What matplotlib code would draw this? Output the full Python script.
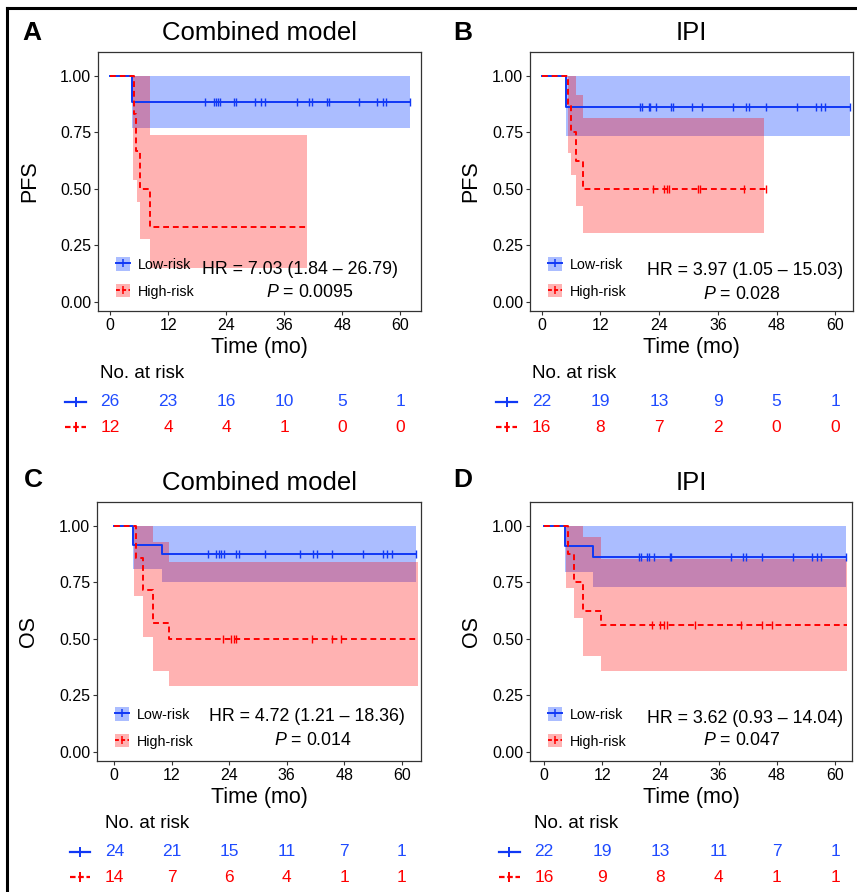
import numpy as np
import matplotlib
matplotlib.use("Agg")
import matplotlib.pyplot as plt
from matplotlib.patches import Patch
from matplotlib.lines import Line2D
import matplotlib.transforms as mtransforms

plt.rcParams['font.family'] = ['Liberation Sans', 'DejaVu Sans']
plt.rcParams['mathtext.fontset'] = 'custom'
plt.rcParams['mathtext.rm'] = 'Liberation Sans'
plt.rcParams['mathtext.it'] = 'Liberation Sans:italic'

# ---------------- data ----------------
panel_letters = ["A", "B", "C", "D"]
panel_titles = ["Combined model", "IPI", "Combined model", "IPI"]
y_labels = ["PFS", "PFS", "OS", "OS"]
group_labels = ["Low-risk", "High-risk"]
x_ticks = [0, 12, 24, 36, 48, 60]
y_ticks = [0.00, 0.25, 0.50, 0.75, 1.00]
y_tick_labels = ["0.00", "0.25", "0.50", "0.75", "1.00"]

hr_texts = ["HR = 7.03 (1.84 \u2013 26.79)", "HR = 3.97 (1.05 \u2013 15.03)",
            "HR = 4.72 (1.21 \u2013 18.36)", "HR = 3.62 (0.93 \u2013 14.04)"]
p_values = ["0.0095", "0.028", "0.014", "0.047"]

# Panel A (PFS, combined model)
A_low_t = [0, 4.6, 62.0]
A_low_s = [1.0, 0.885, 0.885]
A_low_ci_lo = [1.0, 0.768, 0.768]
A_low_ci_hi = [1.0, 1.0, 1.0]
A_low_cens = [19.7, 21.4, 22.0, 22.3, 22.7, 25.6, 26.1, 30.0, 31.3, 32.0, 38.6,
              41.2, 41.8, 44.8, 45.2, 51.5, 55.3, 56.4, 57.0, 62.0]
A_high_t = [0, 4.9, 5.4, 6.2, 8.3, 40.7]
A_high_s = [1.0, 0.833, 0.667, 0.5, 0.333, 0.333]
A_high_ci_t = [0, 4.7, 5.5, 6.2, 8.3, 40.7]
A_high_ci_lo = [1.0, 0.54, 0.444, 0.28, 0.149, 0.149]
A_high_ci_hi = [1.0, 1.0, 1.0, 1.0, 0.739, 0.739]
A_high_cens = []
A_risk_low = [26, 23, 16, 10, 5, 1]
A_risk_high = [12, 4, 4, 1, 0, 0]

# Panel B (PFS, IPI)
B_low_t = [0, 5.0, 62.9]
B_low_s = [1.0, 0.864, 0.864]
B_low_ci_lo = [1.0, 0.735, 0.735]
B_low_ci_hi = [1.0, 1.0, 1.0]
B_low_cens = [20.1, 20.5, 21.9, 22.2, 23.3, 26.5, 26.8, 30.7, 32.7, 39.1, 41.8,
              42.4, 45.8, 52.1, 56.0, 57.1, 57.8, 62.9]
B_high_t = [0, 5.3, 6.0, 6.9, 8.5, 46.0]
B_high_s = [1.0, 0.875, 0.75, 0.625, 0.5, 0.5]
B_high_ci_t = [0, 5.3, 6.0, 6.9, 8.5, 45.5]
B_high_ci_lo = [1.0, 0.66, 0.562, 0.426, 0.307, 0.307]
B_high_ci_hi = [1.0, 1.0, 1.0, 0.913, 0.813, 0.813]
B_high_cens = [22.8, 25.0, 25.5, 26.0, 32.0, 32.4, 41.3, 45.8]
B_risk_low = [22, 19, 13, 9, 5, 1]
B_risk_high = [16, 8, 7, 2, 0, 0]

# Panel C (OS, combined model)
C_low_t = [0, 4.0, 9.9, 63.0]
C_low_s = [1.0, 0.917, 0.875, 0.875]
C_low_ci_lo = [1.0, 0.811, 0.752, 0.752]
C_low_ci_hi = [1.0, 1.0, 1.0, 1.0]
C_low_cens = [19.5, 21.3, 21.8, 22.3, 22.8, 25.5, 26.0, 31.4, 38.8, 41.5, 42.2,
              45.5, 51.9, 56.0, 57.0, 57.9, 63.0]
C_high_t = [0, 4.5, 6.1, 8.0, 11.5, 63.4]
C_high_s = [1.0, 0.857, 0.714, 0.571, 0.5, 0.5]
C_high_ci_t = [0, 4.2, 6.1, 8.0, 11.5, 63.4]
C_high_ci_lo = [1.0, 0.69, 0.51, 0.358, 0.292, 0.292]
C_high_ci_hi = [1.0, 1.0, 1.0, 0.93, 0.841, 0.841]
C_high_cens = [22.7, 24.4, 24.9, 25.5, 41.2, 45.5, 47.4]
C_risk_low = [24, 21, 15, 11, 7, 1]
C_risk_high = [14, 7, 6, 4, 1, 1]

# Panel D (OS, IPI)
D_low_t = [0, 4.4, 10.1, 62.2]
D_low_s = [1.0, 0.909, 0.864, 0.864]
D_low_ci_lo = [1.0, 0.795, 0.729, 0.729]
D_low_ci_hi = [1.0, 1.0, 1.0, 1.0]
D_low_cens = [19.6, 19.9, 21.3, 21.6, 22.7, 25.9, 26.2, 38.5, 41.0, 41.6, 45.0,
              51.4, 55.3, 56.3, 57.1, 62.2]
D_high_t = [0, 4.9, 6.2, 8.1, 11.7, 62.5]
D_high_s = [1.0, 0.875, 0.75, 0.625, 0.5625, 0.5625]
D_high_ci_t = [0, 4.6, 6.2, 8.1, 11.7, 62.5]
D_high_ci_lo = [1.0, 0.726, 0.593, 0.423, 0.36, 0.36]
D_high_ci_hi = [1.0, 1.0, 1.0, 0.95, 0.855, 0.855]
D_high_cens = [22.3, 24.0, 24.7, 25.4, 31.2, 40.6, 44.9, 47.0]
D_risk_low = [22, 19, 13, 11, 7, 1]
D_risk_high = [16, 9, 8, 4, 1, 1]

# ---------------- style / layout ----------------
BLUE = "#1038F5"
BLUE_TXT = "#1F4BFF"
BLUE_FILL = "#2E5BFF"
RED = "#FF0000"
W, H = 857, 892

panels = [
    dict(low=(A_low_t, A_low_s, A_low_ci_lo, A_low_ci_hi, A_low_cens),
         high=(A_high_t, A_high_s, A_high_ci_t, A_high_ci_lo, A_high_ci_hi, A_high_cens),
         risk=(A_risk_low, A_risk_high), box=(98, 52, 421, 311), xlim=(-2.5, 64.3),
         hr_xy=(39.3, 0.142), p_xy=(41.4, 0.04), letter_xy=(32, 33), ylab_x=-0.18),
    dict(low=(B_low_t, B_low_s, B_low_ci_lo, B_low_ci_hi, B_low_cens),
         high=(B_high_t, B_high_s, B_high_ci_t, B_high_ci_lo, B_high_ci_hi, B_high_cens),
         risk=(B_risk_low, B_risk_high), box=(530, 52, 853, 311), xlim=(-2.4, 63.6),
         hr_xy=(41.6, 0.137), p_xy=(40.8, 0.035), letter_xy=(463, 33), ylab_x=-0.15),
    dict(low=(C_low_t, C_low_s, C_low_ci_lo, C_low_ci_hi, C_low_cens),
         high=(C_high_t, C_high_s, C_high_ci_t, C_high_ci_lo, C_high_ci_hi, C_high_cens),
         risk=(C_risk_low, C_risk_high), box=(97, 502, 421, 761), xlim=(-3.6, 64.0),
         hr_xy=(40.3, 0.155), p_xy=(41.4, 0.052), letter_xy=(33, 480), ylab_x=-0.18),
    dict(low=(D_low_t, D_low_s, D_low_ci_lo, D_low_ci_hi, D_low_cens),
         high=(D_high_t, D_high_s, D_high_ci_t, D_high_ci_lo, D_high_ci_hi, D_high_cens),
         risk=(D_risk_low, D_risk_high), box=(530, 502, 852, 761), xlim=(-2.9, 63.5),
         hr_xy=(41.4, 0.15), p_xy=(40.7, 0.05), letter_xy=(463, 480), ylab_x=-0.15),
]

fig = plt.figure(figsize=(W / 100, H / 100), dpi=100)


def surv_at(t, s, x):
    i = np.searchsorted(np.asarray(t), x, side="right") - 1
    return np.asarray(s)[np.clip(i, 0, len(s) - 1)]


DASH = (0, (3.0, 2.0))

for k, p in enumerate(panels):
    l, t, r, b = p["box"]
    ax = fig.add_axes([l / W, 1 - b / H, (r - l) / W, (b - t) / H])
    lt, ls_, llo, lhi, lcens = p["low"]
    ht, hs, hct, hlo, hhi, hcens = p["high"]

    ax.fill_between(lt, llo, lhi, step="post", color=BLUE_FILL, alpha=0.4, lw=0)
    ax.fill_between(hct, hlo, hhi, step="post", color=RED, alpha=0.3, lw=0)
    ax.step(lt, ls_, where="post", color=BLUE, lw=1.4, zorder=3)
    ax.step(ht, hs, where="post", color=RED, lw=1.4, ls=DASH, zorder=4)
    if len(lcens):
        ax.plot(lcens, surv_at(lt, ls_, lcens), ls="none", marker="|", ms=6,
                mew=1.0, color=BLUE, zorder=3)
    if len(hcens):
        ax.plot(hcens, surv_at(ht, hs, hcens), ls="none", marker="|", ms=6,
                mew=1.0, color=RED, zorder=4)

    ax.set_xlim(*p["xlim"])
    ax.set_ylim(-0.04, 1.105)
    ax.set_xticks(x_ticks)
    ax.set_xticklabels([str(v) for v in x_ticks])
    ax.set_yticks(y_ticks)
    ax.set_yticklabels(y_tick_labels)
    ax.tick_params(axis="both", labelsize=11.5, length=3, width=0.8,
                   color="#333333", labelcolor="black", pad=2)
    for sp in ax.spines.values():
        sp.set_color("#333333")
        sp.set_linewidth(0.9)

    ax.set_xlabel("Time (mo)", fontsize=15.5, labelpad=3)
    ax.set_ylabel(y_labels[k], fontsize=15.5)
    ax.yaxis.set_label_coords(p["ylab_x"], 0.5)

    ax.text(0.5, 1 + 19 / (b - t), panel_titles[k], transform=ax.transAxes,
            ha="center", va="center", fontsize=18.5)
    fig.text(p["letter_xy"][0] / W, 1 - p["letter_xy"][1] / H, panel_letters[k],
             ha="center", va="center", fontsize=19, fontweight="bold")

    ax.text(*p["hr_xy"], hr_texts[k], ha="center", va="center", fontsize=12.8)
    ax.text(*p["p_xy"], r"$P$ = " + p_values[k], ha="center", va="center",
            fontsize=12.8)

    # legend
    h_low = (Patch(facecolor=BLUE_FILL, alpha=0.4, edgecolor="none"),
             Line2D([], [], color=BLUE, lw=1.4, marker="|", ms=6, mew=1.1))
    h_high = (Patch(facecolor=RED, alpha=0.3, edgecolor="none"),
              Line2D([], [], color=RED, lw=1.4, ls=(0, (2, 1.2)), marker="|",
                     ms=6, mew=1.1))
    ax.legend([h_low, h_high], group_labels, loc="lower left",
              bbox_to_anchor=(0.057, 0.048), frameon=False, fontsize=10.3,
              borderpad=0, borderaxespad=0, handlelength=0.95, handleheight=1.05,
              handletextpad=0.55, labelspacing=0.85, numpoints=1)

    # number at risk table
    trans = mtransforms.blended_transform_factory(ax.transData, ax.transAxes)
    ah = b - t
    y_head = -(374 - 311) / ah
    y_low = -(402 - 311) / ah
    y_high = -(427 - 311) / ah
    ax.text(-2.0, y_head, "No. at risk", transform=trans, ha="left",
            va="center", fontsize=13.5, clip_on=False)
    rl, rh = p["risk"]
    for xv, n1, n2 in zip(x_ticks, rl, rh):
        ax.text(xv, y_low, str(n1), transform=trans, ha="center", va="center",
                fontsize=12.5, color=BLUE_TXT, clip_on=False)
        ax.text(xv, y_high, str(n2), transform=trans, ha="center", va="center",
                fontsize=12.5, color=RED, clip_on=False)
    ax.add_line(Line2D([-9.3, -5.0], [y_low, y_low], transform=trans, color=BLUE,
                       lw=1.6, clip_on=False))
    ax.add_line(Line2D([-7.15], [y_low], transform=trans, color=BLUE, marker="|",
                       ms=7, mew=1.4, clip_on=False))
    ax.add_line(Line2D([-9.3, -5.0], [y_high, y_high], transform=trans, color=RED,
                       lw=1.6, ls=(0, (2.5, 1.2)), clip_on=False))
    ax.add_line(Line2D([-7.15], [y_high], transform=trans, color=RED, marker="|",
                       ms=7, mew=1.4, clip_on=False))

# outer frame (top and left edges visible)
fig.add_artist(Line2D([7 / W, 1.0], [1 - 8 / H, 1 - 8 / H], color="black", lw=2.2,
                      transform=fig.transFigure))
fig.add_artist(Line2D([7 / W, 7 / W], [0.0, 1 - 8 / H], color="black", lw=2.2,
                      transform=fig.transFigure))

fig.savefig("out.png", dpi=100)
